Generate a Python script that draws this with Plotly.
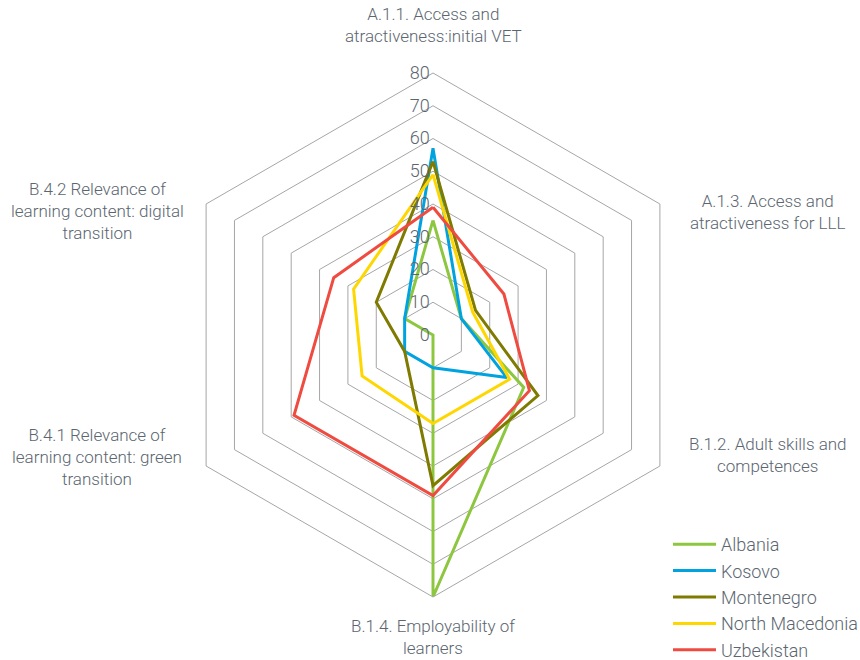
import plotly.graph_objects as go

# Indicator axes, clockwise from the top
categories = [
    "A.1.1. Access and atractiveness:initial VET",
    "A.1.3. Access and atractiveness for LLL",
    "B.1.2. Adult skills and competences",
    "B.1.4. Employability of learners",
    "B.4.1 Relevance of learning content: green transition",
    "B.4.2 Relevance of learning content: digital transition",
]

# Label text shown around the web (line-broken)
axis_labels = [
    "A.1.1. Access and<br>atractiveness:initial VET",
    "A.1.3. Access and<br>atractiveness for LLL",
    "B.1.2. Adult skills and<br>competences",
    "B.1.4. Employability of<br>learners",
    "B.4.1 Relevance of<br>learning content: green<br>transition",
    "B.4.2 Relevance of<br>learning content: digital<br>transition",
]

countries = ["Albania", "Kosovo", "Montenegro", "North Macedonia", "Uzbekistan"]

albania = [35, 10, 32, 80, 0, 10]
kosovo = [57, 10, 26, 10, 10, 10]
montenegro = [53, 15, 37, 46, 10, 20]
north_macedonia = [49, 14, 27, 27, 25, 28]
uzbekistan = [39, 25, 34, 49, 49, 35]

radial_ticks = [0, 10, 20, 30, 40, 50, 60, 70, 80]

series = [albania, kosovo, montenegro, north_macedonia, uzbekistan]
colors = ["#8DC63F", "#00A3E0", "#7F7A00", "#FFD700", "#EF4B40"]

TEXT = "#5B6670"
GRID = "#A6A6A6"
FONT = "Roboto"

W, H = 860, 660
R = 262
cx, cy = 433, 335
L, T = cx - R, cy - R
PW = PH = 2 * R


def px_to_paper(px, py):
    return (px - L) / PW, 1 - (py - T) / PH


fig = go.Figure()
for name, vals, col in zip(countries, series, colors):
    fig.add_trace(go.Scatterpolar(
        r=vals + vals[:1],
        theta=categories + categories[:1],
        mode="lines",
        name=name,
        legendgroup=name,
        line=dict(color=col, width=3),
    ))

# Axis titles placed around the hexagon
label_pos = [
    (433, 25),
    (767, 212),
    (768, 455),
    (433, 637),
    (97, 457),
    (97, 211),
]
for text, (px, py) in zip(axis_labels, label_pos):
    ax, ay = px_to_paper(px, py)
    fig.add_annotation(
        text=text, x=ax, y=ay, xref="paper", yref="paper",
        showarrow=False, align="center", xanchor="center", yanchor="middle",
        font=dict(family=FONT, size=17, color=TEXT, weight=300),
    )

lx, ly = px_to_paper(668, 526)
fig.update_layout(
    width=W, height=H,
    paper_bgcolor="white",
    margin=dict(l=L, r=W - cx - R, t=T, b=H - cy - R, autoexpand=False),
    font=dict(family=FONT, size=16, color=TEXT, weight=300),
    polar=dict(
        bgcolor="white",
        gridshape="linear",
        radialaxis=dict(
            range=[0, 80],
            tickvals=radial_ticks,
            angle=90,
            tickangle=90,
            side="counterclockwise",
            showline=False,
            ticks="",
            gridcolor=GRID,
            gridwidth=1,
            tickfont=dict(family=FONT, size=18, color=TEXT, weight=300),
        ),
        angularaxis=dict(
            rotation=90,
            direction="clockwise",
            showgrid=False,
            showticklabels=False,
            ticks="",
            showline=True,
            linecolor=GRID,
            linewidth=1,
        ),
    ),
    legend=dict(
        x=lx, y=ly, xanchor="left", yanchor="top",
        font=dict(family=FONT, size=18, color=TEXT, weight=300),
        tracegroupgap=0,
        itemwidth=43,
        bgcolor="rgba(0,0,0,0)",
    ),
)

fig.write_html("out.html")
